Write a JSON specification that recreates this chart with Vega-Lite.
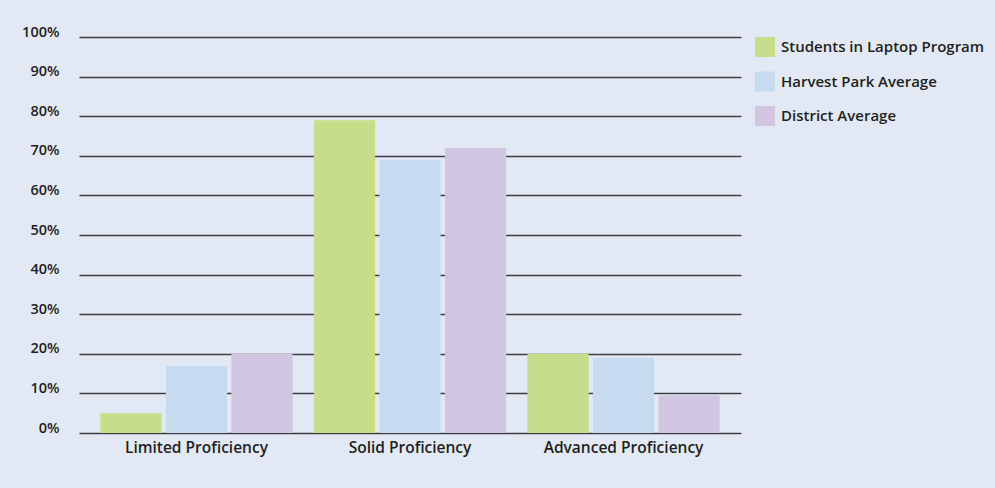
{
  "$schema": "https://vega.github.io/schema/vega-lite/v6.json",
  "width": 662,
  "height": 396,
  "autosize": {"type": "none"},
  "padding": {"left": 79, "top": 37, "right": 254, "bottom": 55},
  "background": "#e2e9f5",
  "config": {
    "view": {"stroke": null},
    "font": "Open Sans"
  },
  "data": {
    "values": [
      {"level": "Limited Proficiency", "group": "Students in Laptop Program", "pct": 5},
      {"level": "Limited Proficiency", "group": "Harvest Park Average", "pct": 17},
      {"level": "Limited Proficiency", "group": "District Average", "pct": 20},
      {"level": "Solid Proficiency", "group": "Students in Laptop Program", "pct": 79},
      {"level": "Solid Proficiency", "group": "Harvest Park Average", "pct": 69},
      {"level": "Solid Proficiency", "group": "District Average", "pct": 72},
      {"level": "Advanced Proficiency", "group": "Students in Laptop Program", "pct": 20},
      {"level": "Advanced Proficiency", "group": "Harvest Park Average", "pct": 19},
      {"level": "Advanced Proficiency", "group": "District Average", "pct": 9.5}
    ]
  },
  "mark": {"type": "bar"},
  "encoding": {
    "x": {
      "field": "level",
      "type": "nominal",
      "sort": ["Limited Proficiency", "Solid Proficiency", "Advanced Proficiency"],
      "scale": {"paddingInner": 0.1, "paddingOuter": 0.1},
      "axis": {
        "title": null,
        "labelAngle": 0,
        "labelFontSize": 15.5,
        "labelFontWeight": 600,
        "labelColor": "#231f20",
        "labelPadding": 7,
        "ticks": false,
        "domain": false
      }
    },
    "xOffset": {
      "field": "group",
      "type": "nominal",
      "sort": ["Students in Laptop Program", "Harvest Park Average", "District Average"],
      "scale": {"paddingInner": 0.066, "paddingOuter": 0}
    },
    "y": {
      "field": "pct",
      "type": "quantitative",
      "scale": {"domain": [0, 100], "nice": false},
      "axis": {
        "title": null,
        "values": [0, 10, 20, 30, 40, 50, 60, 70, 80, 90, 100],
        "labelExpr": "datum.value + '%'",
        "labelFontSize": 14.5,
        "labelFontWeight": 600,
        "labelColor": "#231f20",
        "labelPadding": 20,
        "labelBaseline": "bottom",
        "labelOffset": 2,
        "ticks": false,
        "domain": false,
        "grid": true,
        "gridColor": "#3d3d40",
        "gridWidth": 1.5
      }
    },
    "color": {
      "field": "group",
      "type": "nominal",
      "sort": ["Students in Laptop Program", "Harvest Park Average", "District Average"],
      "scale": {
        "domain": ["Students in Laptop Program", "Harvest Park Average", "District Average"],
        "range": ["#c8dd8a", "#c6dbf0", "#d1c6e2"]
      },
      "legend": {
        "title": null,
        "orient": "none",
        "legendX": 676,
        "legendY": 0,
        "symbolType": "square",
        "symbolSize": 400,
        "symbolStrokeWidth": 0,
        "symbolOpacity": 1,
        "rowPadding": 14.5,
        "labelFontSize": 15,
        "labelFontWeight": 600,
        "labelColor": "#231f20",
        "labelLimit": 300,
        "labelBaseline": "middle",
        "labelOffset": 6
      }
    }
  }
}
